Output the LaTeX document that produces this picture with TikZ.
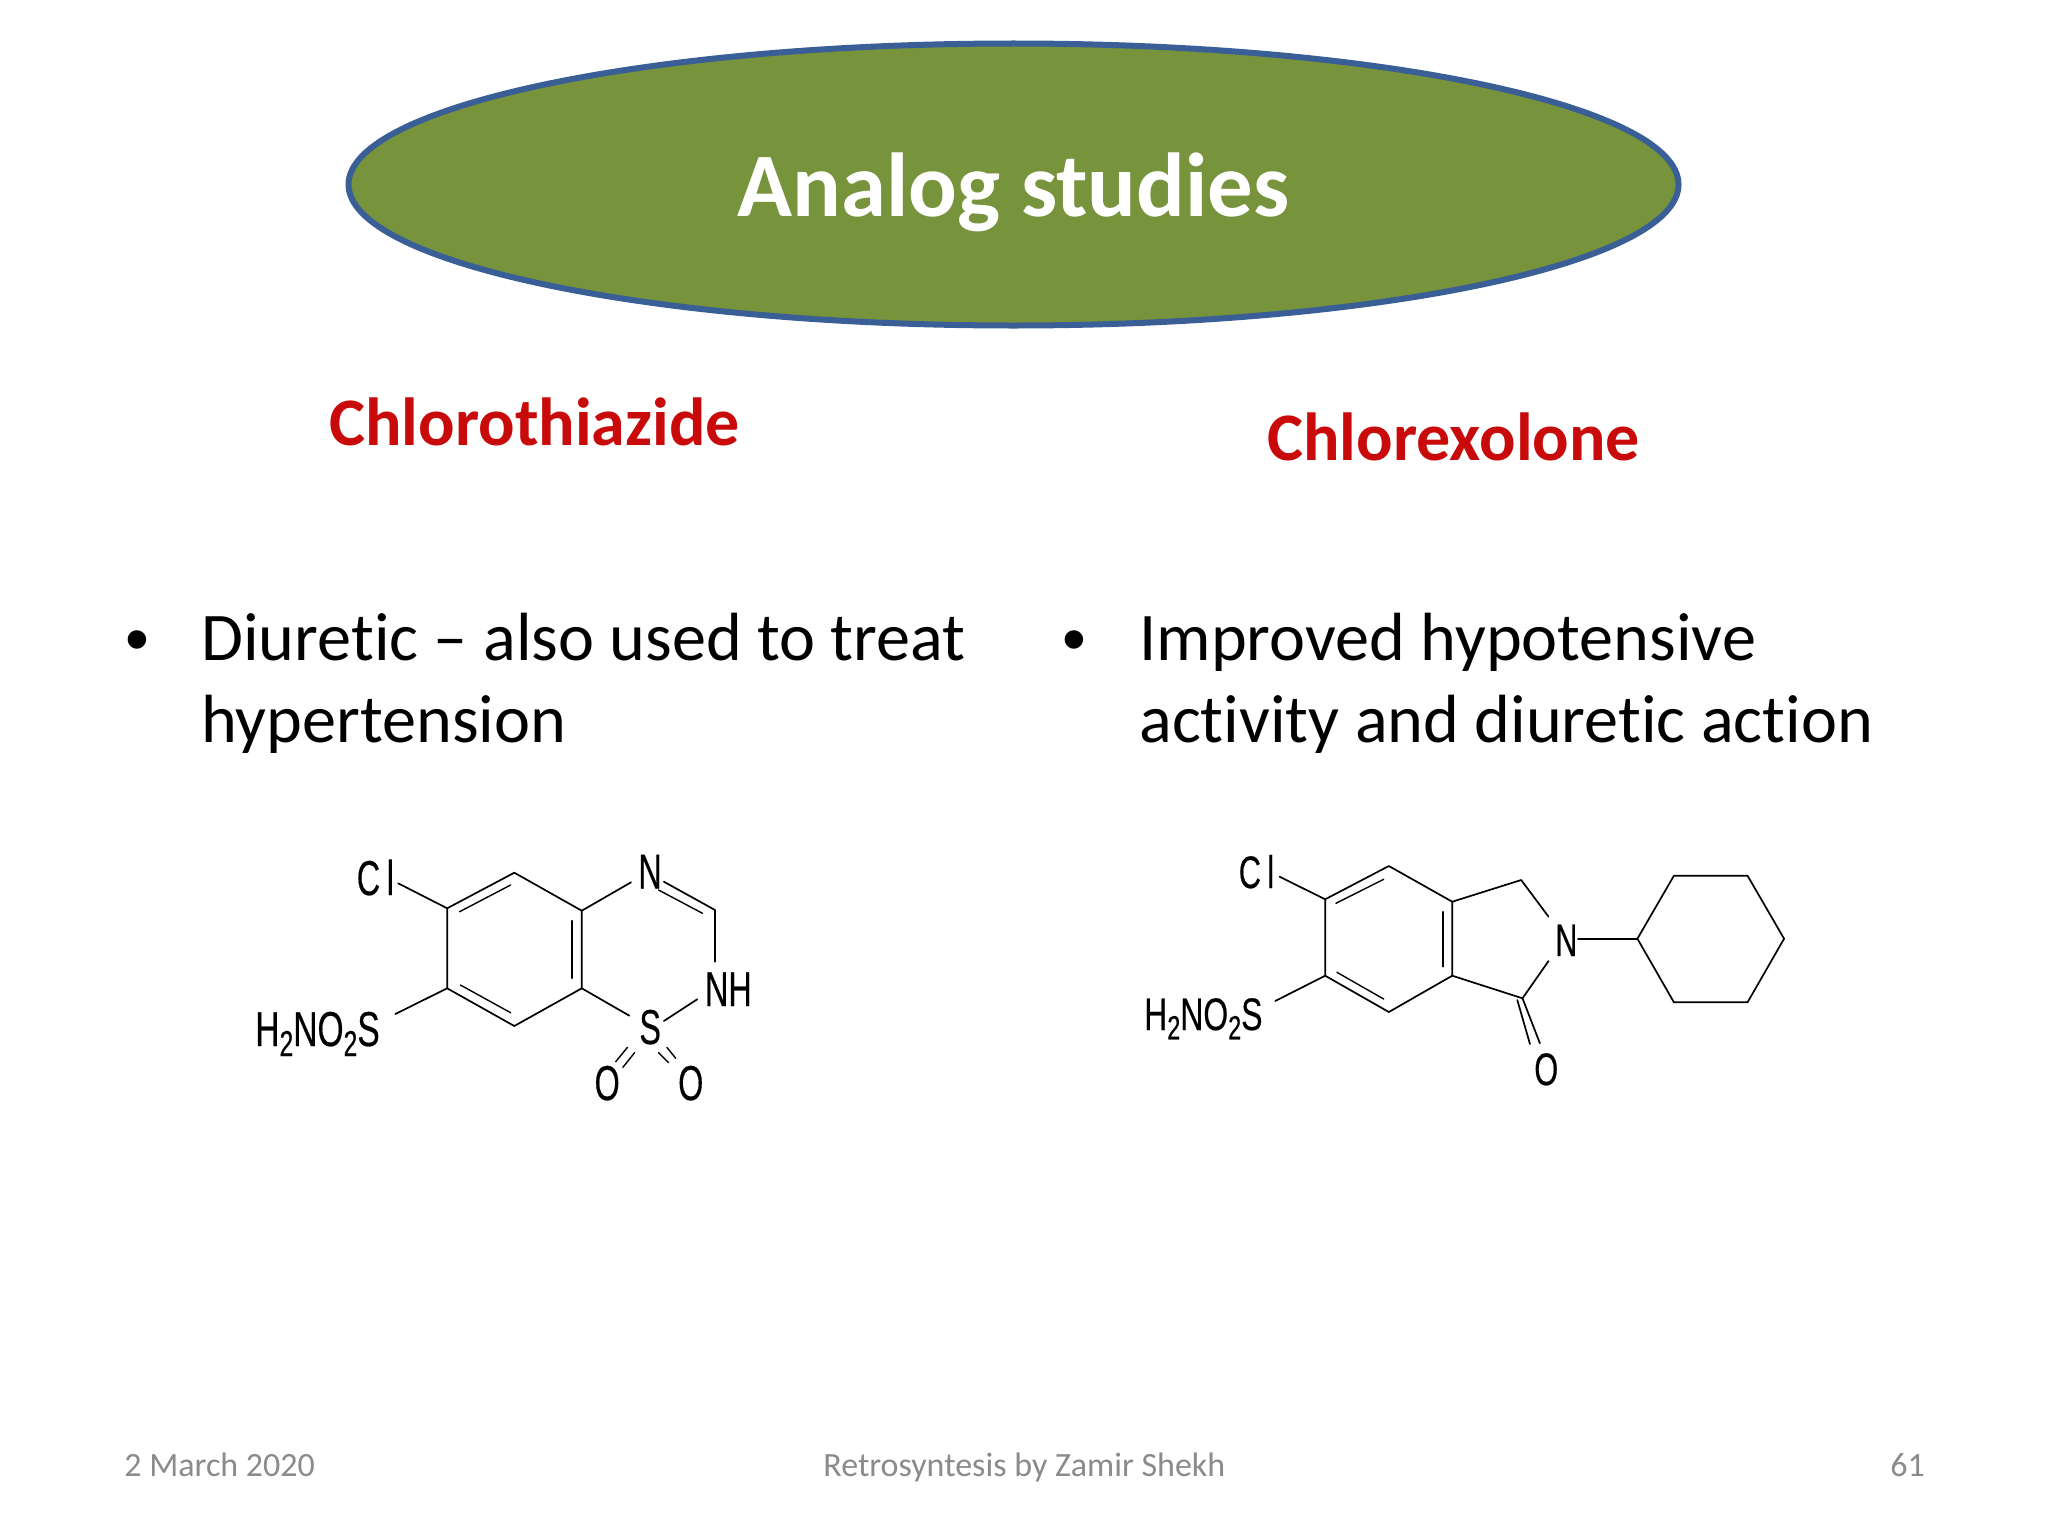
\documentclass[tikz,border=0pt]{standalone}
\usepackage{fontspec}
\usepackage{graphicx}
\setmainfont[Ligatures=NoCommon]{Carlito}
\newfontfamily\bulletfont{Liberation Sans}
\newfontfamily\molfont[FakeBold=0.5]{Liberation Sans}
\definecolor{ovalfill}{HTML}{77933C}
\definecolor{ovalline}{HTML}{3A5F96}
\definecolor{headred}{HTML}{C80A0A}
\definecolor{footgray}{HTML}{8B8B8B}
\newcommand\mol[1]{\scalebox{.66}[1]{\molfont\fontsize{24.5}{24.5}\selectfont #1}}
\newcommand\molwide[1]{\scalebox{.685}[1]{\molfont\fontsize{24.5}{24.5}\selectfont #1}}
\newcommand\molsub[1]{\raisebox{-5pt}{\fontsize{18}{18}\selectfont #1}}
\tikzset{
  x=0.5pt,y=-0.5pt,
  bond/.style={draw=black,line width=0.85pt,line cap=round,line join=round},
  inbond/.style={draw=black,line width=0.7pt,line cap=round},
  atom/.style={inner sep=0pt,anchor=base west,text=black},
  heading/.style={inner sep=0pt,anchor=base west,text=headred,font=\fontsize{34}{40}\selectfont\bfseries},
  bodytext/.style={inner sep=0pt,anchor=north west,align=left,text=black,font=\fontsize{34.1}{41}\selectfont},
  bulletmark/.style={inner sep=0pt,anchor=base west,text=black,font=\bulletfont\fontsize{34}{40}\selectfont},
  foot/.style={inner sep=0pt,anchor=base west,text=footgray,font=\fontsize{17}{20}\selectfont},
}
\begin{document}
\begin{tikzpicture}
\useasboundingbox (0,0) rectangle (2048,1536);
\fill[white] (0,0) rectangle (2048,1536);
% title
\draw[fill=ovalfill,draw=ovalline,line width=3pt] (1013.5,184.5) ellipse [x radius=665,y radius=141];
\node[inner sep=0pt,text=white,anchor=base,font=\fontsize{45.4}{52}\selectfont\bfseries] (title) at (1013.5,216.5) {Analog studies};
% headings
\node[heading] (h1) at (329,445) {Chlorothiazide};
\node[heading] (h2) at (1267,460) {Chlorexolone};
% body
\node[bulletmark] (b1) at (125,662) {•};
\node[bodytext] (t1) at (201,613) {Diuretic – also used to treat\\hypertension};
\node[bulletmark] (b2) at (1062,662) {•};
\node[bodytext] (t2) at (1139,613) {Improved hypotensive\\activity and diuretic action};
% footer
\node[foot] (f1) at (124,1476) {2 March 2020};
\node[foot] (f2) at (823,1476) {Retrosyntesis by Zamir Shekh};
\node[foot] (f3) at (1890,1476) {61};
% ---- Chlorothiazide
\begin{scope}[x=0.4975pt,xshift=0.6pt]
\coordinate (a1) at (448.2,908.3);
\coordinate (a2) at (515.7,872.7);
\coordinate (a3) at (583.5,910.7);
\coordinate (a4) at (583.5,988.3);
\coordinate (a5) at (515.7,1026);
\coordinate (a6) at (448.2,988.3);
\coordinate (ac) at (717.4,910);
\coordinate (aCl) at (399,883.3);
\coordinate (aSu) at (396.1,1014);
\coordinate (aNa) at (633,882.3);
\coordinate (aNb) at (666,881.7);
\coordinate (aHa) at (717.4,961.7);
\coordinate (aHb) at (699.5,999.3);
\coordinate (aSa) at (666,1021);
\coordinate (aSb) at (631.3,1015.7);
\draw[bond] (a1) -- (a2) -- (a3) -- (a4) -- (a5) -- (a6) -- cycle;
\draw[inbond] (460.7,911.7) coordinate (ai1) -- (512,885) coordinate (ai2);
\draw[inbond] (461.5,985) coordinate (ai3) -- (512,1012.7) coordinate (ai4);
\draw[inbond] (573.8,920.7) coordinate (ai5) -- (573.8,978.3) coordinate (ai6);
\draw[bond] (a1) -- (aCl);
\draw[bond] (a6) -- (aSu);
\draw[bond] (a3) -- (aNa);
\draw[bond] (aNb) -- (ac) -- (aHa);
\draw[inbond] (660.7,890) coordinate (ai7) -- (704.8,913.3) coordinate (ai8);
\draw[bond] (aHb) -- (aSa);
\draw[bond] (a4) -- (aSb);
\draw[inbond] (629.4,1047.3) coordinate (ao1) -- (617.6,1061.7) coordinate (ao2);
\draw[inbond] (636.6,1052.7) coordinate (ao3) -- (624.8,1067.3) coordinate (ao4);
\draw[inbond] (669,1047.3) coordinate (ao5) -- (677.9,1058.3) coordinate (ao6);
\draw[inbond] (660.7,1052.7) coordinate (ao7) -- (670.7,1062.7) coordinate (ao8);
\node[atom] (aClL) at (357,895) {\mol{C\kern5pt l}};
\node[atom] (aNL) at (640,888.5) {\mol{N}};
\node[atom] (aNHL) at (707,1006) {\mol{NH}};
\node[atom] (aSL) at (641,1044) {\mol{S}};
\node[atom] (aO1L) at (596,1100) {\mol{O}};
\node[atom] (aO2L) at (680,1100) {\mol{O}};
\node[atom] (aSuL) at (255,1046) {\molwide{H\molsub{2}NO\molsub{2}S}};
\end{scope}
% ---- Chlorexolone
\begin{scope}[x=0.4975pt,xshift=2.8pt]
\coordinate (b1c) at (1326.2,899.3);
\coordinate (b2c) at (1390.2,866);
\coordinate (b3c) at (1453.9,901.7);
\coordinate (b4c) at (1453.9,975.7);
\coordinate (b5c) at (1390.2,1012);
\coordinate (b6c) at (1326.2,975.7);
\coordinate (bch) at (1523.2,880);
\coordinate (bco) at (1524.5,998.3);
\coordinate (bNa) at (1550.7,916.7);
\coordinate (bNb) at (1550.7,961);
\coordinate (bCl) at (1280.4,876.7);
\coordinate (bSu) at (1276,1001);
\coordinate (bNc) at (1580.3,938.7);
\coordinate (cy1) at (1640,938.7);
\coordinate (cy2) at (1676.7,875.7);
\coordinate (cy3) at (1750.7,875.7);
\coordinate (cy4) at (1787.4,938.7);
\coordinate (cy5) at (1750.7,1002.3);
\coordinate (cy6) at (1676.7,1002.3);
\draw[bond] (b1c) -- (b2c) -- (b3c) -- (b4c) -- (b5c) -- (b6c) -- cycle;
\draw[inbond] (1337,903.3) coordinate (bi1) -- (1385,879.3) coordinate (bi2);
\draw[inbond] (1338,972.3) coordinate (bi3) -- (1385,999) coordinate (bi4);
\draw[inbond] (1444.7,911.7) coordinate (bi5) -- (1444.7,966.7) coordinate (bi6);
\draw[bond] (b1c) -- (bCl);
\draw[bond] (b6c) -- (bSu);
\draw[bond] (b3c) -- (bch) -- (bNa);
\draw[bond] (b4c) -- (bco) -- (bNb);
\draw[bond] (bco) -- (1542,1043.3) coordinate (bo1);
\draw[bond] (1519.3,1000) coordinate (bo2) -- (1532,1044) coordinate (bo3);
\draw[bond] (bNc) -- (cy1);
\draw[bond] (cy1) -- (cy2) -- (cy3) -- (cy4) -- (cy5) -- (cy6) -- cycle;
\node[atom] (bClL) at (1239,888) {\scalebox{.95}[.93]{\mol{C\kern5pt l}}};
\node[atom] (bNL) at (1557,956) {\scalebox{.95}[.93]{\mol{N}}};
\node[atom] (bOL) at (1536,1085) {\scalebox{.95}[.93]{\mol{O}}};
\node[atom] (bSuL) at (1144,1030) {\scalebox{.95}[.93]{\molwide{H\molsub{2}NO\molsub{2}S}}};
\end{scope}
\end{tikzpicture}
\end{document}
